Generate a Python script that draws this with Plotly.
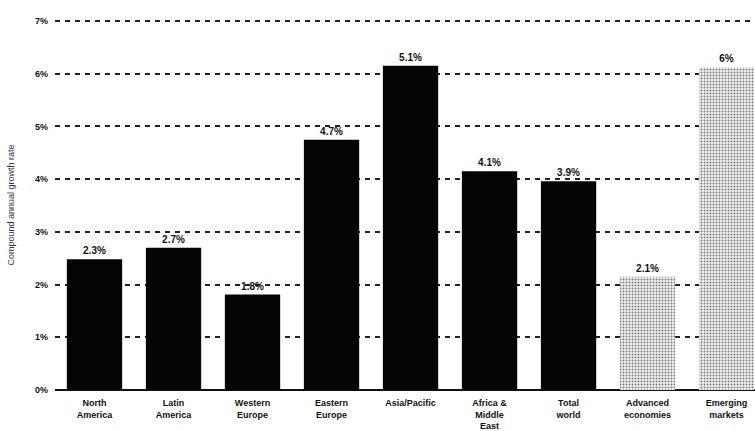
import plotly.graph_objects as go

categories = ["North<br>America", "Latin<br>America", "Western<br>Europe", "Eastern<br>Europe",
              "Asia/Pacific", "Africa &<br>Middle<br>East", "Total<br>world",
              "Advanced<br>economies", "Emerging<br>markets"]
values = [2.48, 2.7, 1.81, 4.75, 6.15, 4.15, 3.96, 2.15, 6.12]
labels = ["2.3%", "2.7%", "1.8%", "4.7%", "5.1%", "4.1%", "3.9%", "2.1%", "6%"]
tick_vals = [0, 1, 2, 3, 4, 5, 6, 7]
tick_text = ["0%", "1%", "2%", "3%", "4%", "5%", "6%", "7%"]

solid_n = 7
font_family = "Liberation Sans"

fig = go.Figure()
fig.add_trace(go.Bar(
    x=list(range(solid_n)), y=values[:solid_n], text=labels[:solid_n],
    textposition="outside", cliponaxis=False, width=0.7,
    marker=dict(color="#050505", line=dict(width=0)),
    textfont=dict(family=font_family, size=10, color="#111"),
))
fig.add_trace(go.Bar(
    x=list(range(solid_n, len(values))), y=values[solid_n:], text=labels[solid_n:],
    textposition="outside", cliponaxis=False, width=0.7,
    marker=dict(color="#f0f0f0", line=dict(width=0),
                pattern=dict(shape=".", fgcolor="#7a7a7a", bgcolor="#f0f0f0",
                             size=3, solidity=0.3, fillmode="replace")),
    textfont=dict(family=font_family, size=10, color="#111"),
))

fig.update_layout(
    width=755, height=431, showlegend=False, barmode="overlay",
    paper_bgcolor="white", plot_bgcolor="white",
    margin=dict(l=55, r=0, t=20, b=39),
    font=dict(family=font_family, size=9, color="#111"),
    xaxis=dict(range=[-0.5, 8.36], tickvals=list(range(len(categories))), ticktext=categories,
               showgrid=False, zeroline=False, showline=False, ticks="",
               ticklabelstandoff=6,
               tickfont=dict(family=font_family, size=9, color="#111")),
    yaxis=dict(range=[0, 7.02], tickvals=tick_vals, ticktext=tick_text,
               showgrid=True, gridcolor="#222", gridwidth=1.6, griddash="5px,5px",
               zeroline=True, zerolinecolor="#111", zerolinewidth=2,
               showline=False, ticks="", ticklabelstandoff=6,
               tickfont=dict(family=font_family, size=9, color="#111"),
               title=dict(text="Compound annual growth rate", standoff=18,
                          font=dict(family=font_family, size=9, color="#333"))),
)
fig.update_traces(textfont_weight="bold")
fig.update_xaxes(tickfont_weight="bold")
fig.update_yaxes(tickfont_weight="bold")

fig.write_html("out.html")
